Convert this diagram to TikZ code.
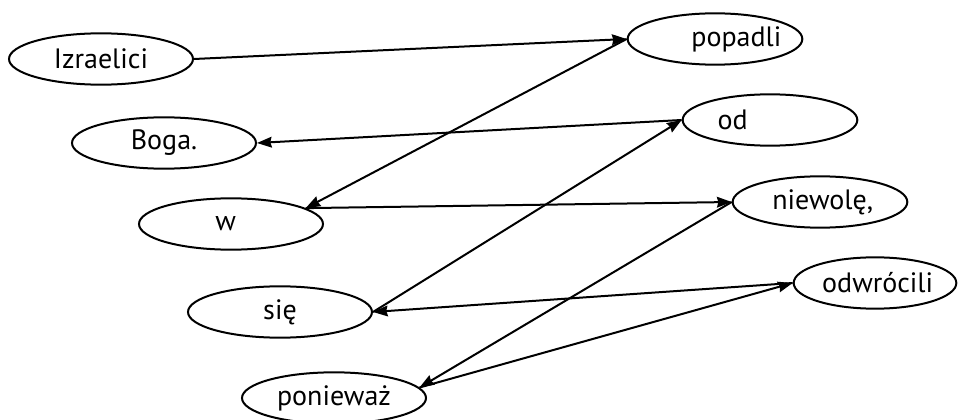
\documentclass[tikz,border=0pt]{standalone}
\usepackage{fontspec}
\setmainfont{PT Sans}
\usetikzlibrary{arrows.meta,shapes.geometric}

\tikzset{every picture/.style={line width=1.5pt}}
\tikzset{word/.style={ellipse, draw, minimum width=#1, minimum height=38.5pt, inner sep=0pt, font=\fontsize{21}{25}\selectfont},
	word/.default=138pt,
	link/.style={-{Stealth[length=11pt,width=8pt,inset=1pt]}}}
\newcommand{\wordbox}[2][0pt]{\makebox[0pt]{\hspace*{#1}#2\hspace*{-#1}}}

\begin{document}
\begin{tikzpicture}[x=0.75pt,y=0.75pt,yscale=-1,xscale=1]
	\useasboundingbox (0,0) rectangle (960,420);

	%Shape: Ellipse (left column)
	\node [word] (izraelici) at (101,59) {\wordbox{Izraelici}};
	%Shape: Ellipse
	\node [word] (boga) at (164,143) {\wordbox{Boga.}};
	%Shape: Ellipse
	\node [word] (w) at (231,224) {\wordbox[-4pt]{w}};
	%Shape: Ellipse
	\node [word] (sie) at (280,312) {\wordbox{się}};
	%Shape: Ellipse
	\node [word] (poniewaz) at (334,398) {\wordbox{ponieważ}};

	%Shape: Ellipse (right column)
	\node [word=131pt] (popadli) at (715,39) {\wordbox[16pt]{popadli}};
	%Shape: Ellipse
	\node [word=131pt] (od) at (770,120) {\wordbox[-28pt]{od}};
	%Shape: Ellipse
	\node [word=131pt] (niewole) at (820,202) {\wordbox[2pt]{niewolę,}};
	%Shape: Ellipse
	\node [word=122pt] (odwrocili) at (875,283) {\wordbox[2pt]{odwrócili}};

	%Straight Lines
	\draw [link] (izraelici.east) -- (popadli.west);
	%Straight Lines
	\draw [link] (popadli.west) -- (w.12);
	%Straight Lines
	\draw [link] (od.west) -- (boga.east);
	%Straight Lines
	\draw [link] (sie.east) -- (od.west);
	%Straight Lines
	\draw [link] (w.12) -- (niewole.west);
	%Straight Lines
	\draw [link] (niewole.west) -- (poniewaz.7);
	%Straight Lines
	\draw [link] (odwrocili.west) -- (sie.east);
	%Straight Lines
	\draw [link] (poniewaz.7) -- (odwrocili.west);
\end{tikzpicture}
\end{document}
